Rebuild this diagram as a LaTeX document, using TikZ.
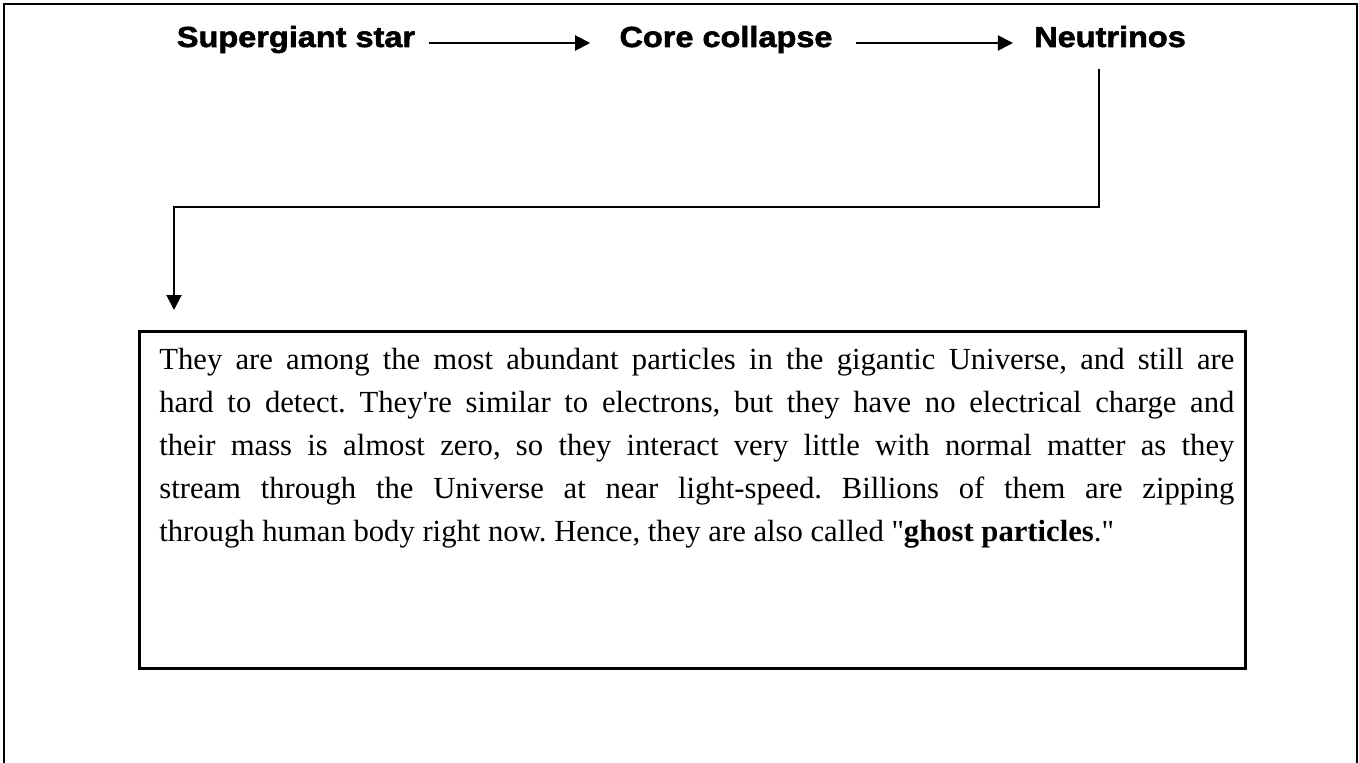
\documentclass[tikz,border=0pt]{standalone}
\usepackage{fontspec}
\setmainfont{Liberation Serif}[Ligatures=TeXOff]
\newfontfamily\stagefont{Liberation Sans}[FakeStretch=1.12, FakeBold=2]
\usepackage{xcolor}
\definecolor{inkBlack}{HTML}{000000}
\usepackage{tikz}
\usetikzlibrary{
    arrows.meta,
    positioning,
    calc
}
\frenchspacing
\tikzset{
    % Heading words of the top row
    stage/.style={
        font=\stagefont\bfseries\fontsize{21.75pt}{26pt}\selectfont,
        text=inkBlack,
        inner sep=0pt,
        anchor=base,
    },
    % Framed note with the justified paragraph
    note/.style={
        draw=inkBlack,
        line width=2pt,
        inner sep=0pt,
        anchor=north west,
        font=\fontsize{23pt}{32.25pt}\selectfont,
    },
    % Plain black arrow
    flow/.style={
        -{Triangle[length=11.25pt, width=11.25pt]},
        line width=1.5pt,
        draw=inkBlack,
    },
    % Page frame, open at the bottom
    frame line/.style={
        line width=1.5pt,
        draw=inkBlack,
    },
}

\begin{document}
\begin{tikzpicture}[x=0.75pt, y=-0.75pt]
    \useasboundingbox (0,0) rectangle (1359,763);
    \draw [frame line] (4,763) -- (4,4) -- (1357,4) -- (1357,763);

    \node (star) [stage] at (296,47) {Supergiant star};
    \node (core) [stage] at (726,47) {Core collapse};
    \node (neu) [stage] at (1110,47) {Neutrinos};

    \node (note) [note] at (138,330) {\hspace*{15pt}\parbox[t][252.75pt][t]{806.25pt}{\vspace*{12.75pt}They are among the most abundant particles in the gigantic Universe, and still are\linebreak
        hard to detect. They're similar to electrons, but they have no electrical charge and\linebreak
        their mass is almost zero, so they interact very little with normal matter as they\linebreak
        stream through the Universe at near light-speed. Billions of them are zipping\linebreak
        through human body right now. Hence, they are also called "\textbf{ghost particles}."}\hspace*{8.25pt}};

    \coordinate (turn) at (174,207);

    \draw [flow] ([shift={(14,-4)}]star.base east) -- ([shift={(-29,-4)}]core.base west);
    \draw [flow] ([shift={(23,-4)}]core.base east) -- ([shift={(-21,-4)}]neu.base west);
    \draw [flow] ([shift={(-11,21)}]neu.south) |- (turn) -- ($(turn |- note.north)+(0,-20)$);
\end{tikzpicture}
\end{document}
